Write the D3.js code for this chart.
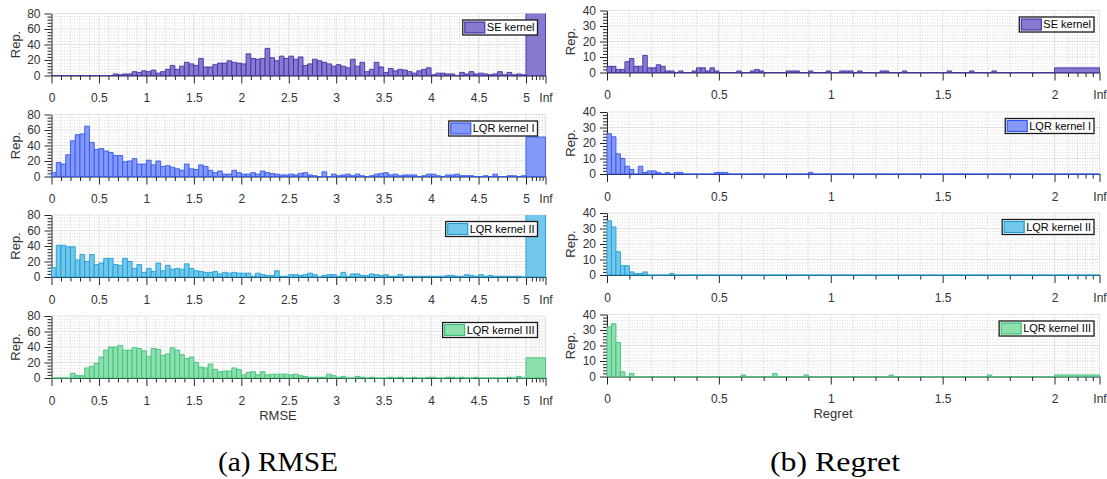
<!DOCTYPE html>
<html><head><meta charset="utf-8">
<script src="https://cdn.jsdelivr.net/npm/d3@7"></script>
<style>body{margin:0;background:#fff} svg{display:block}</style>
</head><body><svg id="c" width="1107" height="479"></svg>
<script>
// ---------- DATA ----------
const kernelNames = ['SE kernel', 'LQR kernel I', 'LQR kernel II', 'LQR kernel III'];

// RMSE histograms: 100 bins of width 0.05 on [0,5], plus one bin [5, Inf)
const rmseBinWidth = 0.05;
const rmseMax = 5;
const rmseSE = [0,0,0,0,0,0,0,0,0,0, 0,0,0,2,1,2,2,5,4,6,
  5,7,3,5,8,13,8,12,17,15, 13,22,11,11,14,16,16,19,17,16,
  15,28,22,21,22,35,23,19,25,22, 25,21,24,13,15,21,19,17,15,12,
  14,12,10,21,12,17,5,8,17,11, 4,9,6,8,7,5,3,6,8,10,
  1,3,3,2,2,0,4,2,5,2, 3,2,1,2,5,1,4,1,2,1];
const rmseLQR1 = [5,18,16,28,46,54,55,65,44,35, 36,33,31,27,27,19,20,23,16,16,
  21,15,20,13,14,12,10,8,16,10, 9,15,13,8,5,7,3,3,8,5,
  3,3,5,3,7,5,4,3,2,2, 3,2,4,5,2,1,0,6,0,3,
  1,2,3,1,3,1,0,1,3,4, 5,2,3,1,2,2,2,0,1,3,
  3,1,0,2,2,3,1,1,1,0, 0,1,0,3,0,0,1,1,0,1];
const rmseLQR2 = [12,41,41,39,39,22,29,20,29,16, 18,24,24,16,15,24,20,11,16,6,
  11,7,18,8,15,10,11,10,17,11, 8,7,6,6,7,4,6,5,6,5,
  5,5,1,5,3,2,2,8,1,1, 3,3,2,3,5,3,0,2,3,3,
  1,6,1,4,4,2,2,4,3,2, 3,1,1,3,1,1,1,1,1,1,
  1,1,1,2,2,1,1,3,2,1, 3,1,2,1,1,1,1,1,1,0];
const rmseLQR3 = [0,0,0,0,6,3,3,13,15,19, 27,36,40,40,42,36,36,39,38,35,
  28,38,37,29,31,39,36,30,25,27, 20,14,13,18,11,8,9,9,13,11,
  4,7,8,4,8,4,5,5,5,5, 4,5,3,2,1,1,1,1,5,3,
  1,2,0,0,2,1,0,1,0,0, 0,1,0,1,0,0,1,0,0,1,
  1,0,0,1,1,0,1,0,0,1, 0,0,0,0,0,0,1,0,2,0];
const rmseInf = [95, 51, 95, 26];

// Regret histograms: 100 bins of width 0.02 on [0,2], plus one bin [2, Inf)
const regretBinWidth = 0.02;
const regretMax = 2;
const regretSE = [4,4,2,2,7,9,4,4,11,3, 3,5,4,1,1,0,1,0,0,1,
  3,3,1,3,1,0,0,0,0,1, 0,0,1,2,1,0,0,0,0,0,
  1,1,1,0,0,1,0,0,0,1, 0,0,1,1,1,0,1,0,0,0,
  0,1,1,0,0,0,1,0,0,0, 0,0,0,0,0,0,1,0,0,0,
  0,1,0,0,0,0,1,0,0,0, 0,0,0,0,0,0,0,0,0,0];
const regretLQR1 = [26,24,13,10,5,3,0,5,1,2, 2,1,0,1,0,1,1,0,0,0,
  0,0,0,0,1,1,1,0,0,0, 0,0,0,0,0,0,0,0,0,0,
  0,0,0,0,0,1,0,0,0,0, 0,0,0,0,0,0,0,0,0,0,
  0,0,0,0,0,0,0,0,0,0, 0,0,0,0,0,0,0,0,0,0,
  0,0,0,0,0,0,0,0,0,0, 0,0,0,0,0,0,0,0,0,0];
const regretLQR2 = [35,31,15,6,6,2,1,1,2,0, 0,0,0,0,1,0,0,0,0,0,
  0,0,0,0,0,0,0,0,0,0, 0,0,0,0,0,0,0,0,0,0,
  0,0,0,0,0,0,0,0,0,0, 0,0,0,0,0,0,0,0,0,0,
  0,0,0,0,0,0,0,0,0,0, 0,0,0,0,0,0,0,0,0,0,
  0,0,0,0,0,0,0,0,0,0, 0,0,0,0,0,0,0,0,0,0];
const regretLQR3 = [32,34,22,3,0,2,0,0,0,0, 0,0,0,0,0,0,0,0,0,0,
  0,0,0,0,0,0,0,0,0,0, 1,0,0,0,0,0,0,2,0,0,
  0,0,0,0,1,0,0,0,0,0, 0,0,0,0,0,0,0,0,0,0,
  0,0,0,1,0,0,0,0,0,0, 0,0,0,0,0,0,0,0,0,0,
  0,0,0,0,0,1,0,0,0,0, 0,0,0,0,0,0,0,0,0,0];
const regretInf = [3, 0, 0, 1];

const rmseTicks = [0,0.5,1,1.5,2,2.5,3,3.5,4,4.5,5];
const regretTicks = [0,0.5,1,1.5,2];
const rmseYTicks = [0,20,40,60,80];
const regretYTicks = [0,10,20,30,40];

// ---------- STYLE ----------
const fills = ['#8679d0', '#8499fa', '#72c7ea', '#8ce0ad'];
const edges = ['#4333a6', '#3358ee', '#1f9fd6', '#3fbf7d'];
const axisColor = '#262626';
const textColor = '#333';
const sansFont = '"Liberation Sans", Arial, sans-serif';

const svg = d3.select('#c');
const defs = svg.append('defs');
let clipId = 0;

function drawPanel(cfg) {
  const {x0, xMid, x1, top, height, xMax, yMax, binW, counts, infCount, k,
         xTicks, yTicks, yMinor, legendInset, labelX} = cfg;
  const bottom = top + height;
  const x = d3.scaleLinear().domain([0, xMax, xMax + 1]).range([x0, xMid, x1]);
  const y = d3.scaleLinear().domain([0, yMax]).range([bottom, top]);
  const g = svg.append('g');

  const infMinor = [0.30, 0.51, 0.69, 0.85].map(f => xMax + f);
  const xMajor = xTicks.concat([xMax + 1]);
  const xMinor = d3.range(0, Math.round(xMax / 0.1) + 1).map(i => +(i * 0.1).toFixed(2))
      .filter(v => !xTicks.some(t => Math.abs(t - v) < 1e-9)).concat(infMinor);
  const yMinorVals = d3.range(0, yMax + 1e-9, yMinor).filter(v => !yTicks.includes(v));

  // grid
  const grid = g.append('g');
  grid.selectAll('line.mxv').data(xMinor).join('line')
    .attr('x1', d => x(d)).attr('x2', d => x(d)).attr('y1', top).attr('y2', bottom)
    .attr('stroke', '#c8c8c8').attr('stroke-width', 0.7).attr('stroke-dasharray', '1,1.5');
  grid.selectAll('line.myh').data(yMinorVals).join('line')
    .attr('x1', x0).attr('x2', x1).attr('y1', d => y(d)).attr('y2', d => y(d))
    .attr('stroke', '#c8c8c8').attr('stroke-width', 0.7).attr('stroke-dasharray', '1,1.5');
  grid.selectAll('line.Mxv').data(xMajor.slice(1)).join('line')
    .attr('x1', d => x(d)).attr('x2', d => x(d)).attr('y1', top).attr('y2', bottom)
    .attr('stroke', '#e2e2e2').attr('stroke-width', 1);
  grid.selectAll('line.Myh').data(yTicks.slice(1)).join('line')
    .attr('x1', x0).attr('x2', x1).attr('y1', d => y(d)).attr('y2', d => y(d))
    .attr('stroke', '#e2e2e2').attr('stroke-width', 1);

  // axes
  const styleAxis = sel => {
    sel.selectAll('path.domain').attr('stroke', axisColor);
    sel.selectAll('line').attr('stroke', axisColor);
    sel.selectAll('text').attr('fill', textColor).style('font-family', sansFont).style('font-size', '12px');
  };
  g.append('g').attr('transform', `translate(0,${bottom})`)
    .call(d3.axisBottom(x).tickValues(xMinor).tickSize(4.5).tickSizeOuter(0).tickFormat(''))
    .call(s => s.select('path.domain').remove())
    .call(styleAxis);
  g.append('g').attr('transform', `translate(0,${bottom})`)
    .call(d3.axisBottom(x).tickValues(xMajor).tickSize(8).tickSizeOuter(0).tickPadding(10)
      .tickFormat(v => v > xMax ? 'Inf' : String(v)))
    .call(styleAxis);
  g.append('g').attr('transform', `translate(${x0},0)`)
    .call(d3.axisLeft(y).tickValues(yMinorVals).tickSize(4).tickSizeOuter(0).tickFormat(''))
    .call(s => s.select('path.domain').remove())
    .call(styleAxis);
  g.append('g').attr('transform', `translate(${x0},0)`)
    .call(d3.axisLeft(y).tickValues(yTicks).tickSize(7).tickSizeOuter(0).tickPadding(4))
    .call(styleAxis);

  // y label
  g.append('text').attr('transform', `translate(${labelX},${(top + bottom) / 2}) rotate(-90)`)
    .attr('text-anchor', 'middle').attr('dy', '0.35em')
    .style('font-family', sansFont).style('font-size', '13px').attr('fill', textColor)
    .text('Rep.');

  // bars
  const id = 'clip' + (clipId++);
  defs.append('clipPath').attr('id', id).append('rect')
    .attr('x', x0 - 1).attr('y', top).attr('width', x1 - x0 + 2).attr('height', height + 1.5);
  const bins = counts.map((c, i) => ({a: i * binW, b: (i + 1) * binW, c}))
    .concat([{a: xMax, b: xMax + 1, c: infCount}]);
  g.append('g').attr('clip-path', `url(#${id})`)
    .selectAll('path').data(bins).join('path')
    .attr('d', d => `M${x(d.a)},${y(0)}V${y(d.c)}H${x(d.b)}V${y(0)}Z`)
    .attr('fill', fills[k]).attr('stroke', edges[k]).attr('stroke-width', 0.9);

  // legend
  const lg = g.append('g');
  const t = lg.append('text').style('font-family', sansFont).style('font-size', '11px')
    .attr('fill', '#000').text(kernelNames[k]);
  const tw = t.node().getComputedTextLength();
  const sw = 20, bh = 15, pad = 2;
  const bw = pad + sw + 2 + tw + 3;
  const bx = x1 - legendInset - bw, by = top + 6.5;
  lg.insert('rect', 'text').attr('x', bx).attr('y', by).attr('width', bw).attr('height', bh)
    .attr('fill', '#fff').attr('stroke', '#1a1a1a').attr('stroke-width', 1.3);
  lg.insert('rect', 'text').attr('x', bx + pad).attr('y', by + 2).attr('width', sw).attr('height', bh - 4)
    .attr('fill', fills[k]).attr('stroke', edges[k]).attr('stroke-width', 1.2);
  t.attr('x', bx + pad + sw + 2).attr('y', by + bh / 2).attr('dy', '0.35em');
  return {x, bottom};
}

const rmseCounts = [rmseSE, rmseLQR1, rmseLQR2, rmseLQR3];
const regretCounts = [regretSE, regretLQR1, regretLQR2, regretLQR3];
const leftTops = [13.5, 114.5, 215, 316];
const rightTops = [10.5, 112, 213, 314.5];

for (let k = 0; k < 4; k++) {
  drawPanel({x0: 51.5, xMid: 526, x1: 545.5, top: leftTops[k], height: 62,
    xMax: rmseMax, yMax: 80, binW: rmseBinWidth, counts: rmseCounts[k], infCount: rmseInf[k], k,
    xTicks: rmseTicks, yTicks: rmseYTicks, yMinor: 4, legendInset: 8, labelX: 15});
  drawPanel({x0: 607, xMid: 1054.5, x1: 1099.5, top: rightTops[k], height: 62,
    xMax: regretMax, yMax: 40, binW: regretBinWidth, counts: regretCounts[k], infCount: regretInf[k], k,
    xTicks: regretTicks, yTicks: regretYTicks, yMinor: 2, legendInset: 5.5, labelX: 570});
}

// x labels
svg.append('text').attr('x', 278).attr('y', 420).attr('text-anchor', 'middle')
  .style('font-family', sansFont).style('font-size', '13px').attr('fill', textColor).text('RMSE');
svg.append('text').attr('x', 833).attr('y', 418).attr('text-anchor', 'middle')
  .style('font-family', sansFont).style('font-size', '13px').attr('fill', textColor).text('Regret');

// captions
const capFont = '"Liberation Serif", "Times New Roman", serif';
svg.append('text').attr('x', 278).attr('y', 471).attr('text-anchor', 'middle')
  .style('font-family', capFont).style('font-size', '28px').attr('fill', '#000')
  .attr('textLength', 120).attr('lengthAdjust', 'spacingAndGlyphs').text('(a) RMSE');
svg.append('text').attr('x', 835).attr('y', 471).attr('text-anchor', 'middle')
  .style('font-family', capFont).style('font-size', '28px').attr('fill', '#000')
  .attr('textLength', 130).attr('lengthAdjust', 'spacingAndGlyphs').text('(b) Regret');
</script>
</body></html>
